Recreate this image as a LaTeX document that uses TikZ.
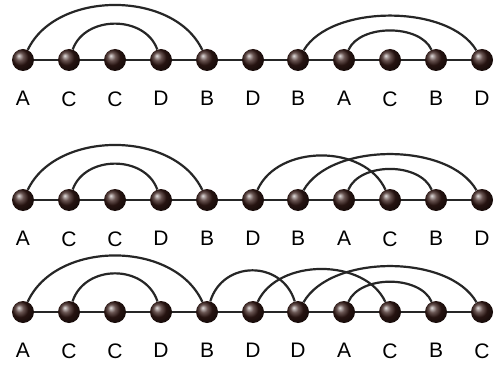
\documentclass[tikz,border=0pt]{standalone}
\usepackage{fontspec}
\setmainfont{Liberation Sans}
\definecolor{beadcol}{RGB}{55,28,24}

\begin{document}
\begin{tikzpicture}[x=1pt,y=1pt]
\tikzstyle{bead} = [circle, minimum size=22pt, inner sep=0pt, shading=ball, ball color=beadcol]
\tikzstyle{every label} = [inner sep=0pt, yshift=-20pt, font=\fontsize{21}{21}\selectfont]
\tikzstyle{rail} = [line width=1.4pt, black!85]
\tikzstyle{link} = [line width=2.2pt, black!85]
\fill[white] (0,0) rectangle (494,367);
\useasboundingbox (0,0) rectangle (494,367);
% first row
\node[bead, label=below:A] (a0) at (23, 307) {};
\node[bead, label=below:C] (a1) at (69, 307) {};
\node[bead, label=below:C] (a2) at (115, 307) {};
\node[bead, label=below:D] (a3) at (161, 307) {};
\node[bead, label=below:B] (a4) at (207, 307) {};
\node[bead, label=below:D] (a5) at (253, 307) {};
\node[bead, label=below:B] (a6) at (298, 307) {};
\node[bead, label=below:A] (a7) at (344, 307) {};
\node[bead, label=below:C] (a8) at (390, 307) {};
\node[bead, label=below:B] (a9) at (436, 307) {};
\node[bead, label=below:D] (a10) at (482, 307) {};
\draw[rail] (a0)--(a1)--(a2)--(a3)--(a4)--(a5)--(a6)--(a7)--(a8)--(a9)--(a10);
\draw[link] (a0) .. controls +(33,70) and +(-33,70) .. (a4);
\draw[link] (a1) .. controls +(16,45) and +(-16,45) .. (a3);
\draw[link] (a6) .. controls +(33,56) and +(-33,56) .. (a10);
\draw[link] (a7) .. controls +(16,36) and +(-16,36) .. (a9);
% second row
\node[bead, label=below:A] (b0) at (23, 167) {};
\node[bead, label=below:C] (b1) at (69, 167) {};
\node[bead, label=below:C] (b2) at (115, 167) {};
\node[bead, label=below:D] (b3) at (161, 167) {};
\node[bead, label=below:B] (b4) at (207, 167) {};
\node[bead, label=below:D] (b5) at (253, 167) {};
\node[bead, label=below:B] (b6) at (298, 167) {};
\node[bead, label=below:A] (b7) at (344, 167) {};
\node[bead, label=below:C] (b8) at (390, 167) {};
\node[bead, label=below:B] (b9) at (436, 167) {};
\node[bead, label=below:D] (b10) at (482, 167) {};
\draw[rail] (b0)--(b1)--(b2)--(b3)--(b4)--(b5)--(b6)--(b7)--(b8)--(b9)--(b10);
\draw[link] (b0) .. controls +(33,70) and +(-33,70) .. (b4);
\draw[link] (b1) .. controls +(16,45) and +(-16,45) .. (b3);
\draw[link] (b5) .. controls +(25,56) and +(-25,56) .. (b8);
\draw[link] (b6) .. controls +(33,58) and +(-33,58) .. (b10);
\draw[link] (b7) .. controls +(16,38) and +(-16,38) .. (b9);
% third row
\node[bead, label=below:A] (c0) at (23, 55) {};
\node[bead, label=below:C] (c1) at (69, 55) {};
\node[bead, label=below:C] (c2) at (115, 55) {};
\node[bead, label=below:D] (c3) at (161, 55) {};
\node[bead, label=below:B] (c4) at (207, 55) {};
\node[bead, label=below:D] (c5) at (253, 55) {};
\node[bead, label=below:D] (c6) at (298, 55) {};
\node[bead, label=below:A] (c7) at (344, 55) {};
\node[bead, label=below:C] (c8) at (390, 55) {};
\node[bead, label=below:B] (c9) at (436, 55) {};
\node[bead, label=below:C] (c10) at (482, 55) {};
\draw[rail] (c0)--(c1)--(c2)--(c3)--(c4)--(c5)--(c6)--(c7)--(c8)--(c9)--(c10);
\draw[link] (c0) .. controls +(33,72) and +(-33,72) .. (c4);
\draw[link] (c1) .. controls +(16,48) and +(-16,48) .. (c3);
\draw[link] (c4) .. controls +(16,52) and +(-16,52) .. (c6);
\draw[link] (c5) .. controls +(25,54) and +(-25,54) .. (c8);
\draw[link] (c6) .. controls +(33,58) and +(-33,58) .. (c10);
\draw[link] (c7) .. controls +(16,37) and +(-16,37) .. (c9);
\end{tikzpicture}
\end{document}
